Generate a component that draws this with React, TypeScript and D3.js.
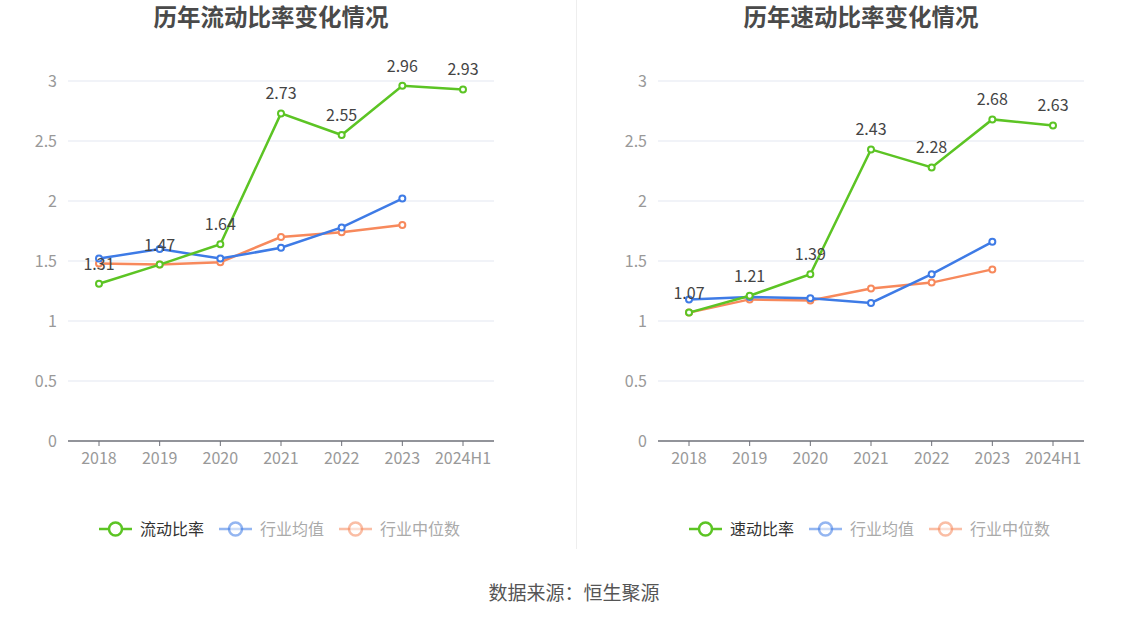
import React from 'react'
import * as d3 from "d3";

const years = ["2018", "2019", "2020", "2021", "2022", "2023", "2024H1"];
const yTicks = [0, 0.5, 1, 1.5, 2, 2.5, 3];

const currentRatio = [1.31, 1.47, 1.64, 2.73, 2.55, 2.96, 2.93];
const currentAvg = [1.52, 1.60, 1.52, 1.61, 1.78, 2.02];
const currentMedian = [1.48, 1.47, 1.49, 1.70, 1.74, 1.80];

const quickRatio = [1.07, 1.21, 1.39, 2.43, 2.28, 2.68, 2.63];
const quickAvg = [1.18, 1.20, 1.19, 1.15, 1.39, 1.66];
const quickMedian = [1.07, 1.18, 1.17, 1.27, 1.32, 1.43];

const GREEN = "#5cc424";
const BLUE = "#3e7be6";
const ORANGE = "#f7895c";
const FONT = "'Noto Sans CJK SC', 'Noto Sans', sans-serif";

type PanelProps = {
  left: number;
  title: string;
  main: number[];
  avg: number[];
  median: number[];
  mainName: string;
};

const Panel: React.FunctionComponent<PanelProps> = ({ left, title, main, avg, median, mainName }) => {
  const x = d3.scalePoint<string>().domain(years).range([left + 31, left + 395]);
  const y = d3.scaleLinear().domain([0, 3]).range([441, 81]);
  const line = d3.line<number>().x((_, i) => x(years[i])!).y(d => y(d));

  const series = [
    { data: median, color: ORANGE },
    { data: avg, color: BLUE },
    { data: main, color: GREEN },
  ];

  const legend = [
    { name: mainName, color: GREEN, text: "#333", opacity: 1 },
    { name: "行业均值", color: BLUE, text: "#aaa", opacity: 0.55 },
    { name: "行业中位数", color: ORANGE, text: "#aaa", opacity: 0.55 },
  ];

  return (
    <g>
      <text x={left + 203} y={26} textAnchor="middle" fontSize={23.5} fontWeight="bold" fill="#4a4a4a">{title}</text>
      {yTicks.map(t => (
        <g key={t}>
          {t > 0 && <line x1={left} x2={left + 426} y1={y(t)} y2={y(t)} stroke="#e3e7f1" strokeWidth={1} />}
          <text x={left - 11} y={y(t)} dy="0.35em" textAnchor="end" fontSize={16} fill="#999">{d3.format("~g")(t)}</text>
        </g>
      ))}
      <line x1={left} x2={left + 426} y1={y(0)} y2={y(0)} stroke="#6e7079" strokeWidth={1.5} />
      {years.map(yr => (
        <g key={yr}>
          <line x1={x(yr)} x2={x(yr)} y1={y(0)} y2={y(0) + 5} stroke="#6e7079" />
          <text x={x(yr)} y={y(0) + 23} textAnchor="middle" fontSize={16} fill="#999">{yr}</text>
        </g>
      ))}
      {series.map((s, k) => (
        <g key={k}>
          <path d={line(s.data)!} fill="none" stroke={s.color} strokeWidth={2.5} />
          {s.data.map((v, i) => (
            <circle key={i} cx={x(years[i])} cy={y(v)} r={3} fill="#fff" stroke={s.color} strokeWidth={2} />
          ))}
        </g>
      ))}
      {main.map((v, i) => (
        <text key={i} x={x(years[i])} y={y(v) - 14} textAnchor="middle" fontSize={16} fill="#444">{v.toFixed(2)}</text>
      ))}
      {legend.map((l, i) => {
        const lx = left + 31 + i * 120;
        return (
          <g key={l.name}>
            <line x1={lx} x2={lx + 33} y1={529} y2={529} stroke={l.color} strokeWidth={2.5} opacity={l.opacity} />
            <circle cx={lx + 16.5} cy={529} r={6.5} fill="#fff" stroke={l.color} strokeWidth={2.5} opacity={l.opacity} />
            <text x={lx + 41} y={529} dy="0.35em" fontSize={16} fill={l.text}>{l.name}</text>
          </g>
        );
      })}
    </g>
  );
};

const App: React.FunctionComponent = () => {
  return (
    <svg width={1147} height={619} style={{ position: "absolute", left: 0, top: 0, background: "#fff" }} fontFamily={FONT}>
      <Panel left={68} title="历年流动比率变化情况" main={currentRatio} avg={currentAvg} median={currentMedian} mainName="流动比率" />
      <Panel left={658} title="历年速动比率变化情况" main={quickRatio} avg={quickAvg} median={quickMedian} mainName="速动比率" />
      <line x1={576.5} x2={576.5} y1={0} y2={549} stroke="#eee" strokeWidth={1} />
      <text x={574} y={593} dy="0.35em" textAnchor="middle" fontSize={19} fill="#555">数据来源：恒生聚源</text>
    </svg>
  );
};

export default App
